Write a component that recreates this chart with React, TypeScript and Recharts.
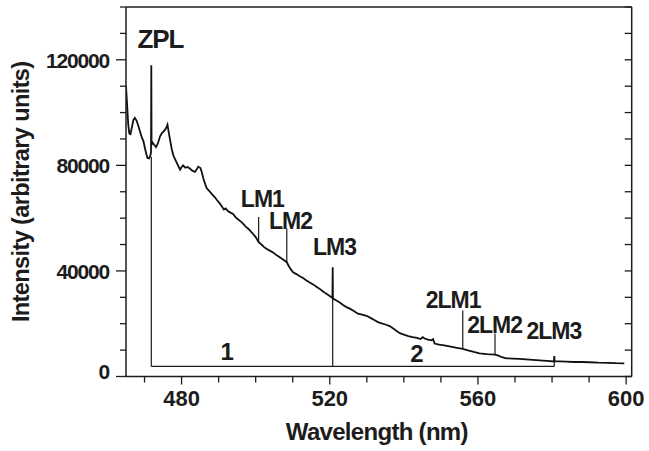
import { ComposedChart, Line, XAxis, YAxis, ReferenceLine, ReferenceDot } from "recharts";

// photoluminescence trace, wavelength in nm
const wavelength = [
  465.0, 465.3, 465.6, 465.9, 466.2, 466.6, 467.0, 467.4, 467.9, 468.4, 468.9, 469.3, 469.7, 470.1,
  470.5, 470.8, 471.2, 471.5, 471.75, 471.83, 471.9, 472.2, 472.6, 473.1, 473.6, 474.2, 474.7, 475.1,
  475.6, 476.0, 476.2, 476.4, 476.8, 477.3, 477.8, 478.3, 478.9, 479.6, 480.0, 480.4, 481.0, 481.6,
  482.3, 482.9, 483.6, 484.0, 484.5, 485.1, 485.5, 485.9, 486.4, 486.8, 487.5, 488.2, 489.0, 489.6,
  490.3, 490.8, 491.4, 491.9, 492.5, 493.2, 493.9, 494.6, 495.3, 496.0, 496.6, 497.3, 498.0, 498.6,
  499.3, 499.9, 500.4, 500.8, 501.5, 502.2, 502.9, 503.8, 504.7, 505.6, 506.5, 507.4, 508.4, 509.0,
  509.6, 510.1, 511.0, 511.9, 512.8, 513.7, 514.6, 515.5, 516.4, 517.3, 518.1, 518.9, 519.7, 520.5,
  520.72, 520.79, 520.86, 521.2, 521.8, 522.7, 523.6, 524.5, 525.4, 526.5, 527.6, 528.7, 529.9, 531.0,
  532.0, 533.0, 534.0, 535.0, 536.2, 537.5, 538.9, 540.0, 541.2, 542.4, 543.5, 544.5, 545.1, 545.6,
  546.5, 547.5, 547.9, 548.3, 549.5, 550.9, 552.3, 554.0, 555.9, 557.3, 558.9, 560.4, 562.4, 564.6,
  565.5, 566.5, 567.6, 569.4, 571.2, 573.0, 574.8, 576.6, 578.5, 580.5, 580.6, 580.7, 582.1, 583.8,
  585.9, 588.0, 590.1, 592.5, 595.0, 597.3, 599.5,
];
const intensity = [
  110000, 103000, 95500, 92000, 91800, 94500, 97200, 98000, 96800, 94600, 92300, 90500, 89200, 86600,
  84200, 82800, 82600, 83400, 84800, 117900, 87800, 88600, 87800, 86900, 88300, 91000, 92200, 92800,
  93600, 94700, 95400, 93600, 90400, 86500, 83700, 82200, 80400, 78400, 79300, 80000, 79100, 79400,
  78700, 78000, 77500, 78300, 79500, 79000, 77200, 74900, 72800, 71300, 70200, 69100, 67900, 66800,
  65600, 64600, 63300, 63700, 62700, 62100, 61600, 60300, 59500, 58700, 57900, 56800, 56000, 55100,
  54000, 53000, 51900, 50900, 50100, 49100, 48400, 47700, 47000, 46000, 45200, 44300, 43300, 41700,
  40400, 39500, 38800, 38000, 37300, 36400, 35600, 34900, 34000, 33200, 32300, 31500, 30800, 30000,
  29700, 41400, 29700, 29300, 28800, 28000, 27100, 26300, 25700, 24800, 23800, 23400, 23000, 22200,
  21400, 20600, 20100, 19700, 19100, 17800, 16400, 15900, 15300, 14900, 14600, 14200, 14900, 14400,
  14000, 13700, 14100, 12500, 12100, 11800, 11400, 10900, 10500, 9900, 9300, 8800, 8500, 8300,
  7900, 7300, 6900, 6800, 6700, 6500, 6300, 6100, 5900, 5700, 7700, 5700, 5700, 5650,
  5500, 5500, 5400, 5250, 5200, 5050, 5000,
];

const xTicks = [470, 480, 490, 500, 510, 520, 530, 540, 550, 560, 570, 580, 590, 600];
const xLabelled = [480, 520, 560, 600];
const yTicks = [0, 10000, 20000, 30000, 40000, 50000, 60000, 70000, 80000, 90000, 100000, 110000, 120000, 130000, 140000];
const yLabelled = [0, 40000, 80000, 120000];

// short lines from the peak labels down to the trace
const markerNames = ["LM1", "LM2", "2LM1", "2LM2"];
const markerX = [500.8, 508.4, 555.9, 564.6];
const markerFrom = [50900, 43300, 10500, 8300];
const markerTo = [60400, 56100, 25000, 16300];

// progression bracket below the trace
const bracketLevel = 3800;
const bracketX = [471.83, 520.79, 580.6];
const bracketTop = [83300, 29700, 5700];

const labelText = ["ZPL", "LM1", "LM2", "LM3", "2LM1", "2LM2", "2LM3", "1", "2"];
const labelX = [474.3, 501.8, 509.4, 521.3, 553.3, 564.5, 580.5, 492.2, 543.4];
const labelY = [124500, 64300, 55900, 46000, 25800, 16400, 14100, 6200, 5600];
const labelSize = [26, 23, 23, 23, 23, 23, 23, 24, 24];

const data = wavelength.map((w, i) => ({ w, v: intensity[i] }));

const INK = "#1c1c1c";
const FONT = "'Liberation Sans', Arial, Helvetica, sans-serif";

const LeftTick = (props: any) => {
  const { x, y, payload } = props;
  const major = yLabelled.includes(payload.value);
  return (
    <g>
      <line x1={x - (major ? 10 : 6)} x2={x} y1={y} y2={y} stroke={INK} strokeWidth={1.3} />
      {major && (
        <text
          x={x - 17}
          y={payload.value === 0 ? y + 2 : y + 8}
          textAnchor="end"
          fontFamily={FONT}
          fontWeight="bold"
          fontSize={21}
          letterSpacing={-1.2}
          fill={INK}
        >
          {payload.value}
        </text>
      )}
    </g>
  );
};

const BottomTick = (props: any) => {
  const { x, y, payload } = props;
  const major = xLabelled.includes(payload.value);
  return (
    <g>
      <line x1={x} x2={x} y1={y} y2={y + (major ? 8 : 6)} stroke={INK} strokeWidth={1.3} />
      {major && (
        <text x={x} y={y + 29.5} textAnchor="middle" fontFamily={FONT} fontWeight="bold" fontSize={22} fill={INK}>
          {payload.value}
        </text>
      )}
    </g>
  );
};

const XTitle = (props: any) => {
  const { x, y, width } = props.viewBox;
  return (
    <text x={x + width / 2 - 2} y={y + 63} textAnchor="middle" fontFamily={FONT} fontWeight="bold" fontSize={24} letterSpacing={-0.7} fill={INK}>
      Wavelength (nm)
    </text>
  );
};

const YTitle = (props: any) => {
  const { x, y, height } = props.viewBox;
  const cx = x + 29;
  const cy = y + height / 2;
  return (
    <text
      x={cx}
      y={cy}
      transform={`rotate(-90 ${cx} ${cy})`}
      textAnchor="middle"
      fontFamily={FONT}
      fontWeight="bold"
      fontSize={23.5}
      letterSpacing={-0.6}
      fill={INK}
    >
      Intensity (arbitrary units)
    </text>
  );
};

export default function App() {
  return (
    <div style={{ position: "absolute", left: 0, top: 0, background: "#fff" }}>
      <ComposedChart width={649} height={451} data={data} margin={{ top: 7, right: 17.3, bottom: 0, left: 0 }}>
        <XAxis
          xAxisId="x"
          dataKey="w"
          type="number"
          domain={[465, 601.5]}
          allowDataOverflow
          ticks={xTicks}
          interval={0}
          height={74.5}
          tickSize={0}
          tickMargin={0}
          tickLine={false}
          tick={<BottomTick />}
          axisLine={{ stroke: INK, strokeWidth: 1.5 }}
          label={<XTitle />}
        />
        <XAxis
          xAxisId="top"
          orientation="top"
          mirror
          type="number"
          domain={[465, 601.5]}
          allowDataOverflow
          ticks={xTicks}
          interval={0}
          tickSize={7}
          tickFormatter={() => ""}
          tickLine={{ stroke: INK, strokeWidth: 1.3 }}
          axisLine={{ stroke: INK, strokeWidth: 1.5 }}
        />
        <YAxis
          yAxisId="y"
          type="number"
          domain={[0, 140000]}
          allowDataOverflow
          ticks={yTicks}
          interval={0}
          width={126}
          tickSize={0}
          tickMargin={0}
          tickLine={false}
          tick={<LeftTick />}
          axisLine={{ stroke: INK, strokeWidth: 1.5 }}
          label={<YTitle />}
        />
        <YAxis
          yAxisId="right"
          orientation="right"
          mirror
          type="number"
          domain={[0, 140000]}
          allowDataOverflow
          ticks={yTicks}
          interval={0}
          tickSize={7}
          tickFormatter={() => ""}
          tickLine={{ stroke: INK, strokeWidth: 1.3 }}
          axisLine={{ stroke: INK, strokeWidth: 1.5 }}
        />

        <ReferenceLine
          xAxisId="x"
          yAxisId="y"
          segment={[
            { x: bracketX[0], y: bracketLevel },
            { x: bracketX[bracketX.length - 1], y: bracketLevel },
          ]}
          stroke={INK}
          strokeWidth={1.2}
        />
        {bracketX.map((bx, i) => (
          <ReferenceLine
            key={`b${i}`}
            xAxisId="x"
            yAxisId="y"
            segment={[
              { x: bx, y: bracketLevel },
              { x: bx, y: bracketTop[i] },
            ]}
            stroke={INK}
            strokeWidth={1.2}
          />
        ))}
        {markerNames.map((n, i) => (
          <ReferenceLine
            key={n}
            xAxisId="x"
            yAxisId="y"
            segment={[
              { x: markerX[i], y: markerFrom[i] },
              { x: markerX[i], y: markerTo[i] },
            ]}
            stroke={INK}
            strokeWidth={1.2}
          />
        ))}

        <Line
          xAxisId="x"
          yAxisId="y"
          type="linear"
          dataKey="v"
          stroke="#111"
          strokeWidth={1.8}
          dot={false}
          activeDot={false}
          isAnimationActive={false}
        />

        {labelText.map((t, i) => (
          <ReferenceDot
            key={`l${i}`}
            xAxisId="x"
            yAxisId="y"
            x={labelX[i]}
            y={labelY[i]}
            r={1}
            fill="none"
            stroke="none"
            label={(p: any) => (
              <text
                x={p.viewBox.x + p.viewBox.width / 2}
                y={p.viewBox.y + p.viewBox.height / 2}
                textAnchor="middle"
                fontFamily={FONT}
                fontWeight="bold"
                fontSize={labelSize[i]}
                letterSpacing={-1}
                fill={INK}
              >
                {t}
              </text>
            )}
          />
        ))}
      </ComposedChart>
    </div>
  );
}
